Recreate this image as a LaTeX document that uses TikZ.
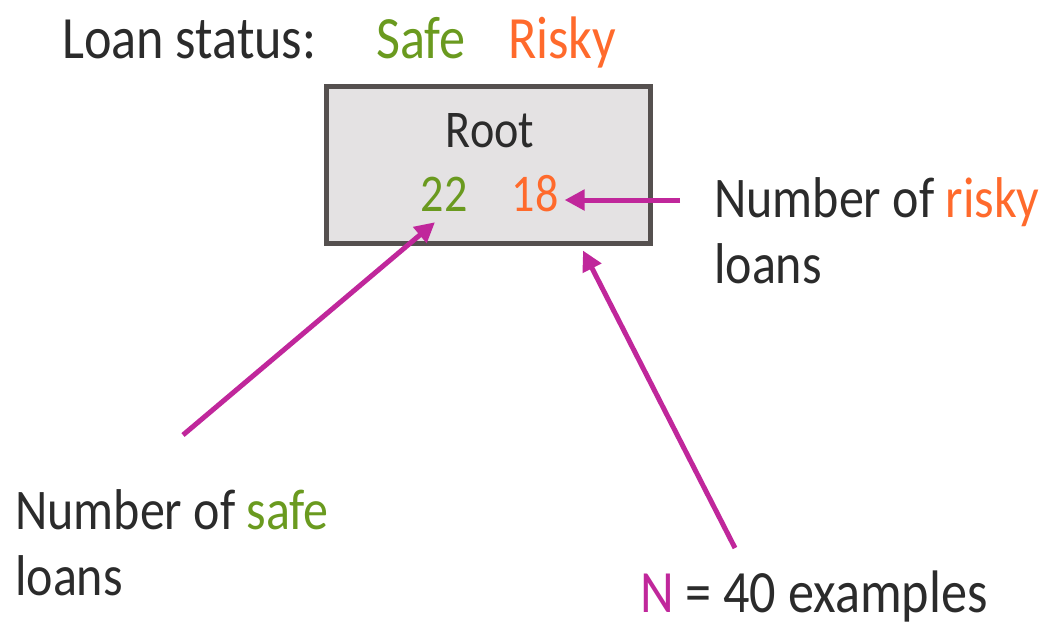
\documentclass[tikz,border=0pt]{standalone}
\usepackage{fontspec}
\setmainfont[FakeStretch=0.87]{Carlito}
\usetikzlibrary{arrows.meta,calc}
\definecolor{txt}{HTML}{2B2B2B}
\definecolor{safec}{HTML}{6A9A1F}
\definecolor{riskc}{HTML}{FF6A2C}
\definecolor{mag}{HTML}{C0279B}
\definecolor{boxfill}{HTML}{E4E2E3}
\definecolor{boxline}{HTML}{55504F}
\tikzset{
  big/.style={font=\fontsize{60}{66}\selectfont, text=txt, inner sep=0pt, anchor=base west, align=left},
  note/.style={big, font=\fontsize{57.5}{66}\selectfont},
  mid/.style={font=\fontsize{53}{60}\selectfont, text=txt, inner sep=0pt, anchor=base},
  pointer/.style={draw=mag, line width=5pt, -{Triangle[length=20pt,width=20pt]}},
}
\begin{document}
\begin{tikzpicture}[x=1pt,y=-1pt]
\useasboundingbox (0,0) rectangle (1045,625);
\node[big] (title) at (62,58) {Loan status:};
\node[big, text=safec] (safe) at (376,58) {Safe};
\node[big, text=riskc] (risky) at (508,58) {Risky};
\node[draw=boxline, fill=boxfill, line width=5pt, minimum width=324pt, minimum height=157pt, inner sep=0pt] (root) at (488,164.5) {};
\node[mid] (rootlbl) at (490,147) {Root};
\node[mid, text=safec] (n22) at (444,211) {22};
\node[mid, text=riskc] (n18) at (535,211) {18};
\node[note] (riskylbl) at (714,283) {Number of {\color{riskc}risky}\\loans};
\node[note] (safelbl) at (15,595) {Number of {\color{safec}safe}\\loans};
\node[big] (nlbl) at (640,612) {{\color{mag}N} = 40 examples};
\coordinate (a1) at (680,200);
\coordinate (a2) at (183,435);
\coordinate (a3) at (735,548);
\draw[pointer] (a1) -- ([xshift=6pt]n18.east |- a1);
\draw[pointer] (a2) -- ([xshift=-9pt,yshift=-11pt]n22.south);
\draw[pointer] (a3) -- ([xshift=95pt,yshift=-5pt]root.south);
\end{tikzpicture}
\end{document}
